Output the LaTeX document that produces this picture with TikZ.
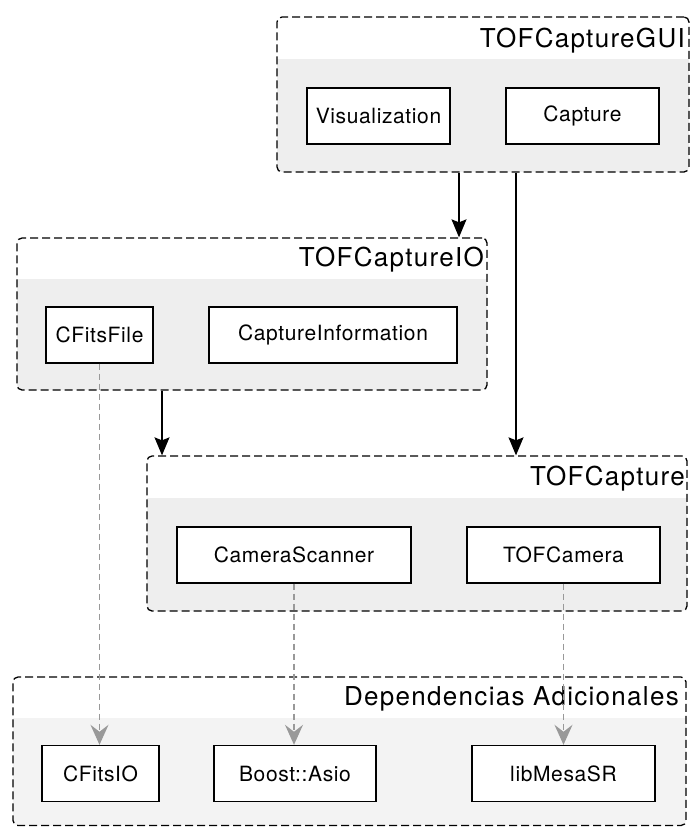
\documentclass[tikz,border=0pt]{standalone}
\usepackage{fontspec}
\setmainfont{TeX Gyre Heros}
\newfontfamily\titlefont[LetterSpace=5]{TeX Gyre Heros}
\newfontfamily\boxfont[LetterSpace=3]{TeX Gyre Heros}
\usetikzlibrary{arrows.meta}
\definecolor{bandgray}{HTML}{EEEEEE}
\definecolor{bandlight}{HTML}{F3F3F3}
\definecolor{deparrow}{HTML}{999999}
\tikzset{
  container/.style={draw=black, line width=1.3pt, dash pattern=on 8pt off 4pt,
    rounded corners=5pt, rectangle, inner sep=0pt},
  title/.style={anchor=base east, inner sep=0pt,
    font=\titlefont\fontsize{26}{30}\selectfont},
  module/.style={draw=black, line width=1.4pt, fill=white, rectangle,
    inner sep=0pt, minimum height=56pt,
    font=\boxfont\fontsize{21}{25}\selectfont},
  uses/.style={line width=1.4pt, -{Stealth[length=18pt, width=15pt, inset=3pt]}},
  extdep/.style={draw=deparrow, line width=1.2pt, dash pattern=on 6pt off 4pt,
    -{Stealth[length=20pt, width=18pt, inset=7pt, fill=deparrow]}}
}
\begin{document}
\begin{tikzpicture}[x=1pt, y=-1pt]
\useasboundingbox (0,0) rectangle (691,827);

% ---- shaded lower bands of the packages ----
\fill[bandgray]  (277,59)  -- (689,59)  [rounded corners=5pt] -- (689,172) -- (277,172) [sharp corners] -- cycle;
\fill[bandgray]  (17,279)  -- (487,279) [rounded corners=5pt] -- (487,390) -- (17,390)  [sharp corners] -- cycle;
\fill[bandgray]  (147,498) -- (687,498) [rounded corners=5pt] -- (687,611) -- (147,611) [sharp corners] -- cycle;
\fill[bandlight] (13,718)  -- (686,718) [rounded corners=5pt] -- (686,825.5) -- (13,825.5) [sharp corners] -- cycle;

% ---- package frames ----
\node[container, minimum width=412pt, minimum height=155pt] (gui)  at (483,94.5) {};
\node[container, minimum width=470pt, minimum height=152pt] (io)   at (252,314) {};
\node[container, minimum width=540pt, minimum height=155pt] (core) at (417,533.5) {};
\node[container, minimum width=673pt, minimum height=148.5pt] (deps) at (349.5,751.25) {};

% ---- package titles ----
\node[title] (guiT)  at (685,47)  {TOFCaptureGUI};
\node[title] (ioT)   at (484,266) {TOFCaptureIO};
\node[title] (coreT) at (685,485) {TOFCapture};
\node[title] (depsT) at (679,705) {Dependencias Adicionales};

% ---- modules ----
\node[module, minimum width=143pt] (vis)  at (378.5,116) {Visualization};
\node[module, minimum width=153pt] (cap)  at (582.5,116) {Capture};
\node[module, minimum width=107pt] (fits) at (99.5,335)  {CFitsFile};
\node[module, minimum width=248pt] (info) at (333,335)   {CaptureInformation};
\node[module, minimum width=234pt] (scan) at (294,555)   {CameraScanner};
\node[module, minimum width=193pt] (cam)  at (563.5,555) {TOFCamera};
\node[module, minimum width=117pt] (cfio) at (100.5,773.5) {CFitsIO};
\node[module, minimum width=162pt] (asio) at (295,773.5) {Boost::Asio};
\node[module, minimum width=183pt] (mesa) at (563.5,773.5) {libMesaSR};

% ---- package dependencies ----
\draw[uses] (gui.south -| 459,0) -- (io.north -| 459,0);
\draw[uses] (gui.south -| 516,0) -- (core.north -| 516,0);
\draw[uses] (io.south -| 162,0)  -- (core.north -| 162,0);

% ---- external libraries ----
\draw[extdep] (fits.south) -- (fits.south |- cfio.north);
\draw[extdep] (scan.south) -- (scan.south |- asio.north);
\draw[extdep] (cam.south)  -- (cam.south |- mesa.north);
\end{tikzpicture}
\end{document}
